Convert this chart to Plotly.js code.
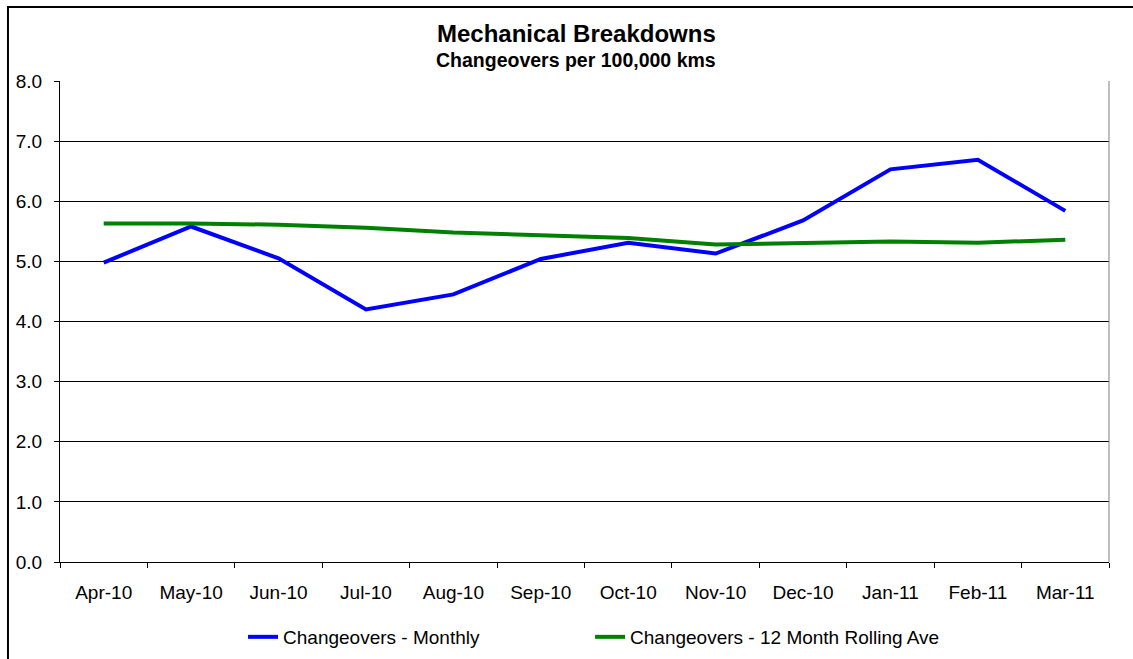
<!DOCTYPE html>
<html>
<head>
<meta charset="utf-8">
<script src="https://cdn.plot.ly/plotly-3.0.1.min.js"></script>
<style>html,body{margin:0;padding:0;background:#fff;}#chart{width:1133px;height:659px;}</style>
</head>
<body>
<div id="chart"></div>
<script>
const months = ["Apr-10","May-10","Jun-10","Jul-10","Aug-10","Sep-10","Oct-10","Nov-10","Dec-10","Jan-11","Feb-11","Mar-11"];
const monthly = [4.98, 5.58, 5.05, 4.20, 4.45, 5.04, 5.31, 5.13, 5.68, 6.53, 6.69, 5.84];
const rolling = [5.63, 5.63, 5.61, 5.56, 5.48, 5.44, 5.39, 5.28, 5.31, 5.33, 5.31, 5.36];
const yTicks = [0,1,2,3,4,5,6,7,8];
const yTickText = yTicks.map(v => v.toFixed(1));

const font = "Liberation Sans, Arial, sans-serif";

const traces = [
  {x: months, y: monthly, type: "scatter", mode: "lines", name: "Changeovers - Monthly",
   line: {color: "#0000FF", width: 4}, legend: "legend"},
  {x: months, y: rolling, type: "scatter", mode: "lines", name: "Changeovers - 12 Month Rolling Ave",
   line: {color: "#008000", width: 4}, legend: "legend2"}
];

const legendBase = {orientation: "h", xref: "container", yref: "container", xanchor: "left",
  y: 0.0334, yanchor: "middle", font: {family: font, size: 19, color: "#000"},
  bgcolor: "rgba(0,0,0,0)"};

const layout = {
  width: 1133, height: 659,
  margin: {l: 60, r: 24, t: 81, b: 97},
  paper_bgcolor: "#fff", plot_bgcolor: "#fff",
  font: {family: font, size: 19, color: "#000"},
  showlegend: true,
  legend: Object.assign({}, legendBase, {x: 0.2145}),
  legend2: Object.assign({}, legendBase, {x: 0.5208}),
  xaxis: {type: "category", tickmode: "array", tickvals: months, ticktext: months,
          tickson: "boundaries", ticks: "outside", ticklen: 5, tickcolor: "#000",
          showline: true, linecolor: "#000", linewidth: 1, showgrid: false, zeroline: false,
          automargin: false,
          ticklabelstandoff: 13, tickfont: {family: font, size: 19, color: "#000"},
          range: [-0.5, 11.5], fixedrange: true},
  yaxis: {range: [0, 8], tickmode: "array", tickvals: yTicks, ticktext: yTickText,
          ticks: "outside", ticklen: 5, tickcolor: "#000",
          showline: true, linecolor: "#000", linewidth: 1, automargin: false,
          showgrid: true, gridcolor: "#000", gridwidth: 1, zeroline: false,
          ticklabelstandoff: 8, tickfont: {family: font, size: 19, color: "#000"}, fixedrange: true},
  annotations: [
    {text: "<b>Mechanical Breakdowns</b>", xref: "paper", yref: "paper", x: 0.492, y: 1.0997,
     xanchor: "center", yanchor: "middle", showarrow: false, font: {family: font, size: 24, color: "#000"}},
    {text: "<b>Changeovers per 100,000 kms</b>", xref: "paper", yref: "paper", x: 0.492, y: 1.0437,
     xanchor: "center", yanchor: "middle", showarrow: false, font: {family: font, size: 19.5, color: "#000"}}
  ],
  shapes: [
    {type: "line", xref: "paper", yref: "paper", x0: 1, x1: 1, y0: 0, y1: 1,
     line: {color: "#808080", width: 1}},
    {type: "rect", xref: "paper", yref: "paper", x0: -0.0496, x1: 1.06, y0: -0.35, y1: 1.1538,
     line: {color: "#000", width: 2}, fillcolor: "rgba(0,0,0,0)", layer: "below"}
  ]
};

Plotly.newPlot("chart", traces, layout, {staticPlot: true, displayModeBar: false});
</script>
</body>
</html>
